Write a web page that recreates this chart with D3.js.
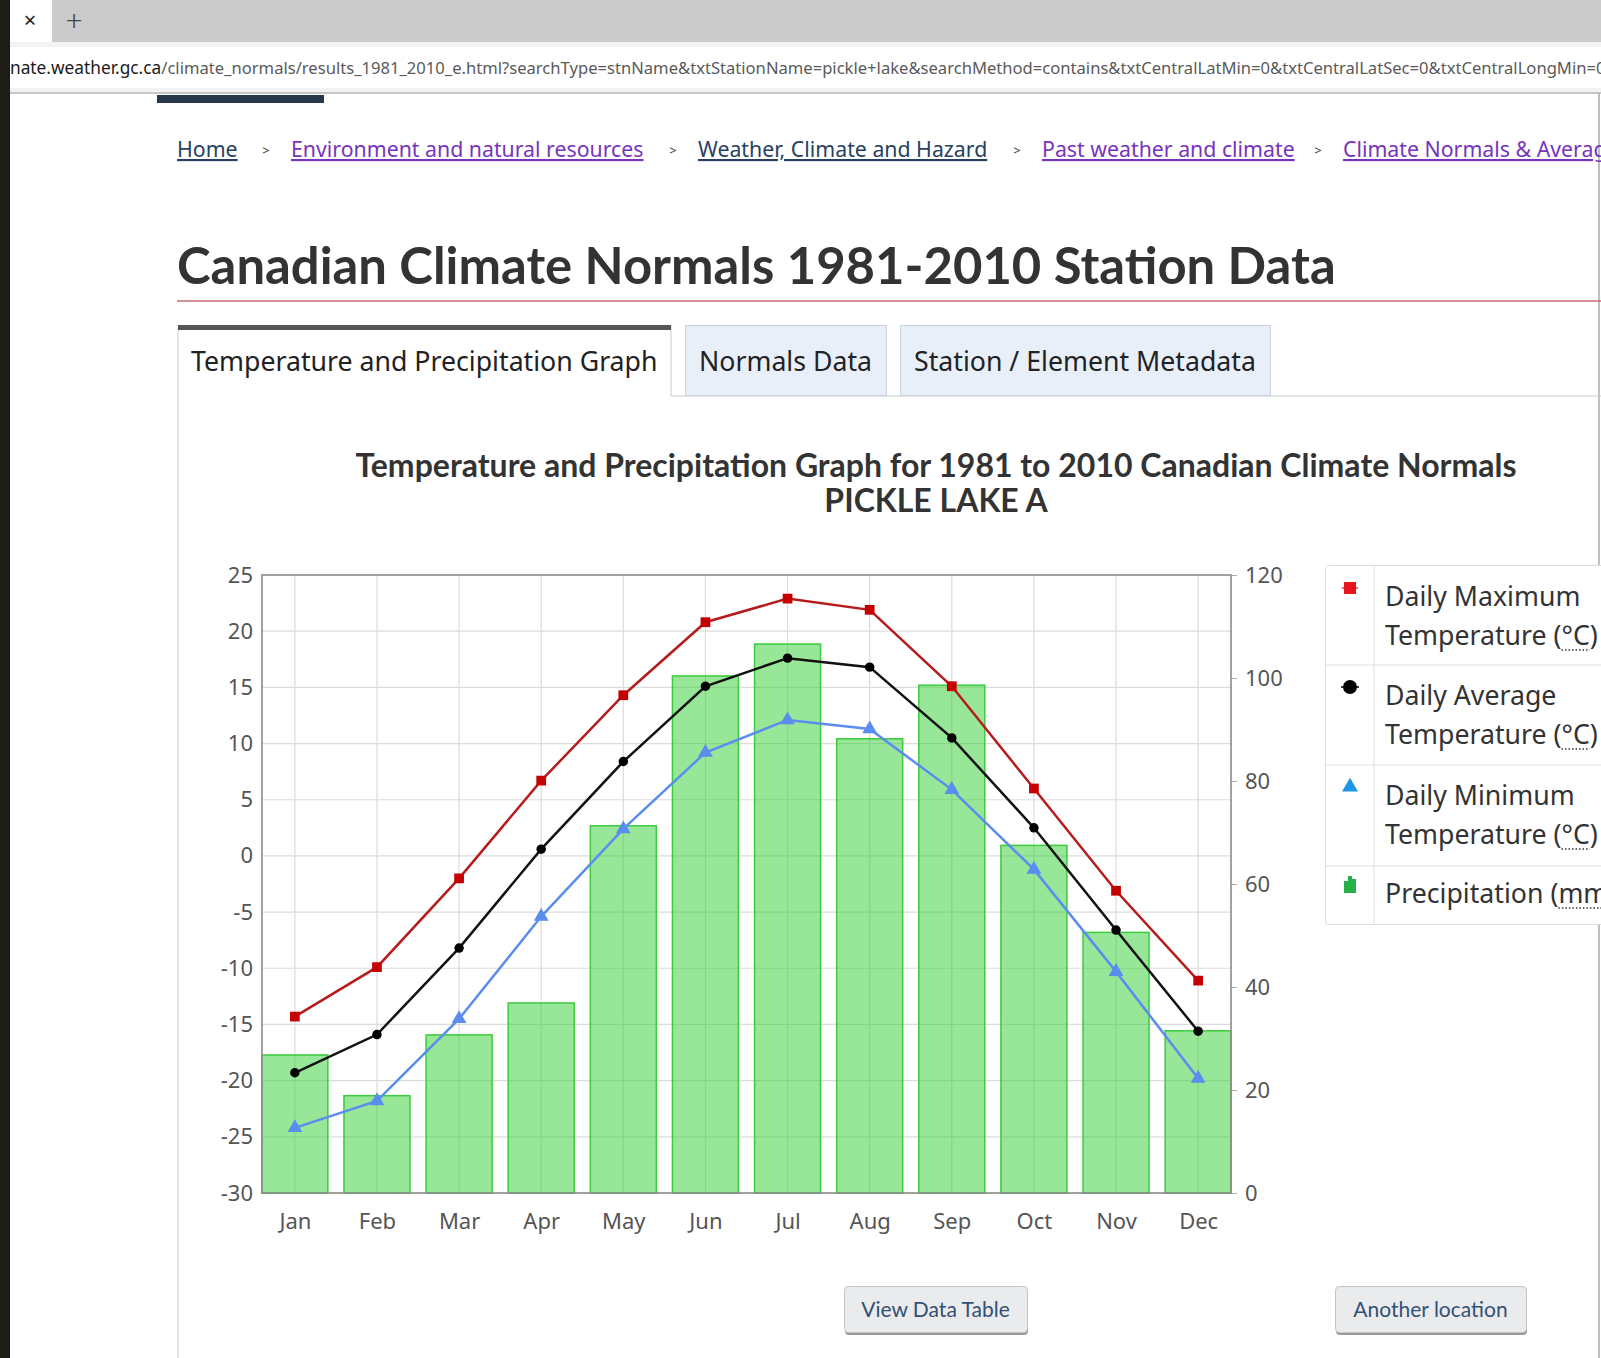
<!DOCTYPE html>
<html>
<head>
<meta charset="utf-8">
<script src="https://cdn.jsdelivr.net/npm/d3@7"></script>
<style>
  body { margin: 0; overflow: hidden; background: #fff; }
  text { font-family: "Noto Sans", sans-serif; }
</style>
</head>
<body>
<div id="page"></div>
<script>
// chart values
var months = ["Jan", "Feb", "Mar", "Apr", "May", "Jun", "Jul", "Aug", "Sep", "Oct", "Nov", "Dec"];
var maxTemp = [-14.3, -9.9, -2.0, 6.7, 14.3, 20.8, 22.9, 21.9, 15.1, 6.0, -3.1, -11.1];
var avgTemp = [-19.3, -15.9, -8.2, 0.6, 8.4, 15.1, 17.6, 16.8, 10.5, 2.5, -6.6, -15.6];
var minTemp = [-24.2, -21.8, -14.5, -5.4, 2.4, 9.2, 12.1, 11.3, 5.9, -1.2, -10.3, -19.8];
var precip = [26.8, 18.9, 30.7, 36.9, 71.3, 100.4, 106.6, 88.2, 98.6, 67.5, 50.6, 31.5];
var tempTicks = [-30, -25, -20, -15, -10, -5, 0, 5, 10, 15, 20, 25];
var precipTicks = [0, 20, 40, 60, 80, 100, 120];

var svgWidth = 1601;
var svgHeight = 1358;

var plot = { left: 262, right: 1231, top: 575, bottom: 1193 };

var svg = d3.select("#page")
  .append("svg")
  .attr("width", svgWidth)
  .attr("height", svgHeight);

// ---- browser chrome ----
svg.append("rect").attr("x", 0).attr("y", 0).attr("width", svgWidth).attr("height", 42).attr("fill", "#cbcbcb");
svg.append("rect").attr("x", 10).attr("y", 0).attr("width", 42).attr("height", 42).attr("fill", "#fff");
svg.append("text").attr("x", 30).attr("y", 28).attr("text-anchor", "middle")
  .style("font-size", "22px").attr("fill", "#222").text("×");
svg.append("text").attr("x", 74).attr("y", 31).attr("text-anchor", "middle")
  .style("font-size", "30px").style("font-weight", 300).attr("fill", "#444").text("+");

svg.append("rect").attr("x", 0).attr("y", 42).attr("width", svgWidth).attr("height", 51).attr("fill", "#f3f3f3");
svg.append("rect").attr("x", 0).attr("y", 47).attr("width", svgWidth).attr("height", 41).attr("fill", "#fff");
svg.append("line").attr("x1", 0).attr("x2", svgWidth).attr("y1", 93).attr("y2", 93)
  .attr("stroke", "#c6c6c6").attr("stroke-width", 2);

var url = svg.append("text").attr("x", 10).attr("y", 74).style("font-size", "16.6px");
url.append("tspan").attr("fill", "#1a1a1a").style("font-size", "17.3px").text("nate.weather.gc.ca");
url.append("tspan").attr("fill", "#5a5a5a")
  .text("/climate_normals/results_1981_2010_e.html?searchType=stnName&txtStationName=pickle+lake&searchMethod=contains&txtCentralLatMin=0&txtCentralLatSec=0&txtCentralLongMin=0&txtCentralLongSec=0");

svg.append("rect").attr("x", 157).attr("y", 95).attr("width", 167).attr("height", 8).attr("fill", "#26374a");
svg.append("line").attr("x1", 1599).attr("x2", 1599).attr("y1", 93).attr("y2", svgHeight)
  .attr("stroke", "#aaa").attr("stroke-width", 1.5);
svg.append("rect").attr("x", 0).attr("y", 0).attr("width", 10).attr("height", svgHeight).attr("fill", "#1d1d15");

// ---- breadcrumb ----
var crumbs = [
  { x: 177, t: "Home", c: "#284162" },
  { x: 291, t: "Environment and natural resources", c: "#7834bc" },
  { x: 698, t: "Weather, Climate and Hazard", c: "#284162" },
  { x: 1042, t: "Past weather and climate", c: "#7834bc" },
  { x: 1343, t: "Climate Normals & Averages", c: "#7834bc" }
];
var crumbSep = [266, 673, 1017, 1318];

svg.selectAll(".crumb").data(crumbs).enter().append("text")
  .attr("x", d => d.x).attr("y", 157)
  .attr("fill", d => d.c)
  .style("font-size", "21.3px")
  .style("text-decoration", "underline")
  .text(d => d.t);
svg.selectAll(".sep").data(crumbSep).enter().append("text")
  .attr("x", d => d).attr("y", 155).attr("text-anchor", "middle")
  .attr("fill", "#333").style("font-size", "13px").text(">");

// ---- page title ----
svg.append("text").attr("x", 177).attr("y", 284)
  .style("font-family", "Lato, sans-serif").style("font-weight", 700).style("font-size", "50.8px")
  .attr("fill", "#333").text("Canadian Climate Normals 1981-2010 Station Data");
svg.append("line").attr("x1", 177).attr("x2", svgWidth).attr("y1", 301).attr("y2", 301)
  .attr("stroke", "#c86a6f").attr("stroke-width", 1.5);

// ---- tabs ----
svg.append("line").attr("x1", 178).attr("x2", 178).attr("y1", 325).attr("y2", svgHeight).attr("stroke", "#ccc");
svg.append("line").attr("x1", 671).attr("x2", 671).attr("y1", 325).attr("y2", 396).attr("stroke", "#ccc");
svg.append("line").attr("x1", 671).attr("x2", svgWidth).attr("y1", 396).attr("y2", 396).attr("stroke", "#ccc");
svg.append("rect").attr("x", 178).attr("y", 325).attr("width", 493).attr("height", 5).attr("fill", "#555");
svg.append("text").attr("x", 191).attr("y", 371).style("font-size", "26.7px").attr("fill", "#222")
  .text("Temperature and Precipitation Graph");

var tabs = [
  { x: 685, w: 201, t: "Normals Data" },
  { x: 900, w: 370, t: "Station / Element Metadata" }
];
svg.selectAll(".tab").data(tabs).enter().append("rect")
  .attr("x", d => d.x + 0.5).attr("y", 325.5).attr("width", d => d.w).attr("height", 70)
  .attr("fill", "#e8eff9").attr("stroke", "#cdd3dc");
svg.selectAll(".tabtxt").data(tabs).enter().append("text")
  .attr("x", d => d.x + 14).attr("y", 371).style("font-size", "26.7px").attr("fill", "#222")
  .text(d => d.t);

// ---- chart title ----
var chartTitle = svg.append("text").attr("text-anchor", "middle")
  .style("font-family", "Lato, sans-serif").style("font-weight", 700).style("font-size", "32px")
  .attr("fill", "#333");
chartTitle.append("tspan").attr("x", 936).attr("y", 477)
  .text("Temperature and Precipitation Graph for 1981 to 2010 Canadian Climate Normals");
chartTitle.append("tspan").attr("x", 936).attr("y", 512).text("PICKLE LAKE A");

// ---- chart ----
var x = d3.scalePoint().domain(months).range([plot.left, plot.right]).padding(0.4);
var yTemp = d3.scaleLinear().domain([-30, 25]).range([plot.bottom, plot.top]);
var yPrecip = d3.scaleLinear().domain([0, 120]).range([plot.bottom, plot.top]);

var chartGroup = svg.append("g");

// grid
chartGroup.append("g").selectAll("line").data(tempTicks.slice(1, -1)).enter().append("line")
  .attr("x1", plot.left).attr("x2", plot.right)
  .attr("y1", d => yTemp(d)).attr("y2", d => yTemp(d))
  .attr("stroke", "#dcdcdc").attr("stroke-width", 1.2);
chartGroup.append("g").selectAll("line").data(months).enter().append("line")
  .attr("x1", d => x(d)).attr("x2", d => x(d))
  .attr("y1", plot.top).attr("y2", plot.bottom)
  .attr("stroke", "#dcdcdc").attr("stroke-width", 1.2);

// precipitation bars
var barWidth = 66;
chartGroup.append("g").selectAll("rect").data(precip).enter().append("rect")
  .attr("x", (d, i) => x(months[i]) - barWidth / 2)
  .attr("y", d => yPrecip(d))
  .attr("width", barWidth)
  .attr("height", d => yPrecip(0) - yPrecip(d))
  .attr("fill", "rgba(50,205,50,0.5)")
  .attr("stroke", "#3ccb3c")
  .attr("stroke-width", 1.5);

// frame
chartGroup.append("rect")
  .attr("x", plot.left).attr("y", plot.top)
  .attr("width", plot.right - plot.left).attr("height", plot.bottom - plot.top)
  .attr("fill", "none").attr("stroke", "#8a8a8a").attr("stroke-width", 1.6);

// axes
var leftAxis = chartGroup.append("g").attr("transform", `translate(${plot.left}, 0)`)
  .call(d3.axisLeft(yTemp).tickValues(tempTicks).tickFormat(d => String(d)).tickSize(0).tickPadding(9));
var rightAxis = chartGroup.append("g").attr("transform", `translate(${plot.right}, 0)`)
  .call(d3.axisRight(yPrecip).tickValues(precipTicks).tickFormat(d => String(d)).tickSize(6).tickPadding(8));
var bottomAxis = chartGroup.append("g").attr("transform", `translate(0, ${plot.bottom})`)
  .call(d3.axisBottom(x).tickSize(0).tickPadding(20));

[leftAxis, rightAxis, bottomAxis].forEach(function(ax) {
  ax.select(".domain").remove();
  ax.selectAll("text")
    .style("font-family", "Noto Sans, sans-serif")
    .style("font-size", "22px")
    .attr("fill", "#555");
  ax.selectAll("line").attr("stroke", "#aaa");
});

// temperature series
var series = [
  { values: maxTemp, color: "#b71c1c", marker: "#c40000", symbol: d3.symbolSquare, size: 95 },
  { values: avgTemp, color: "#111", marker: "#000", symbol: d3.symbolCircle, size: 70 },
  { values: minTemp, color: "#5b8def", marker: "#5b8def", symbol: d3.symbolTriangle, size: 95 }
];

var line = d3.line()
  .x((d, i) => x(months[i]))
  .y(d => yTemp(d));

series.forEach(function(s) {
  chartGroup.append("path")
    .datum(s.values)
    .attr("d", line)
    .attr("fill", "none")
    .attr("stroke", s.color)
    .attr("stroke-width", 2.5);

  chartGroup.append("g").selectAll("path").data(s.values).enter().append("path")
    .attr("transform", (d, i) => `translate(${x(months[i])}, ${yTemp(d)})`)
    .attr("d", d3.symbol().type(s.symbol).size(s.size))
    .attr("fill", s.marker);
});

// ---- legend ----
var legend = svg.append("g");
legend.append("rect").attr("x", 1325.5).attr("y", 565.5).attr("width", 400).attr("height", 359)
  .attr("rx", 3).attr("fill", "#fff").attr("stroke", "#dedede");
legend.append("line").attr("x1", 1374).attr("x2", 1374).attr("y1", 566).attr("y2", 924).attr("stroke", "#dedede");
[665, 765, 866].forEach(function(yy) {
  legend.append("line").attr("x1", 1326).attr("x2", svgWidth).attr("y1", yy).attr("y2", yy).attr("stroke", "#dedede");
});

var legendRows = [
  { lines: [["Daily Maximum", "", ""], ["Temperature (", "°C", ")"]], y: [606, 645] },
  { lines: [["Daily Average", "", ""], ["Temperature (", "°C", ")"]], y: [705, 744] },
  { lines: [["Daily Minimum", "", ""], ["Temperature (", "°C", ")"]], y: [805, 844] },
  { lines: [["Precipitation (", "mm", ")"]], y: [903] }
];

legendRows.forEach(function(row) {
  row.lines.forEach(function(parts, k) {
    var t = legend.append("text").attr("x", 1385).attr("y", row.y[k])
      .style("font-size", "26.7px").attr("fill", "#333");
    t.append("tspan").text(parts[0]);
    if (parts[1]) {
      t.append("tspan").text(parts[1]);
      t.append("tspan").text(parts[2]);
      var node = t.node();
      var x0 = node.getStartPositionOfChar(parts[0].length).x;
      var x1 = node.getEndPositionOfChar(parts[0].length + parts[1].length - 1).x;
      legend.append("line").attr("x1", x0).attr("x2", x1)
        .attr("y1", row.y[k] + 5).attr("y2", row.y[k] + 5)
        .attr("stroke", "#333").attr("stroke-width", 1.5).attr("stroke-dasharray", "1.5,2");
    }
  });
});

// legend icons
var ix = 1350;
legend.append("line").attr("x1", ix - 8).attr("x2", ix + 8).attr("y1", 588).attr("y2", 588).attr("stroke", "#e33").attr("stroke-width", 1.5);
legend.append("rect").attr("x", ix - 6).attr("y", 582).attr("width", 12).attr("height", 12).attr("fill", "#e8141c");
legend.append("line").attr("x1", ix - 9).attr("x2", ix + 9).attr("y1", 687).attr("y2", 687).attr("stroke", "#000").attr("stroke-width", 1.5);
legend.append("circle").attr("cx", ix).attr("cy", 687).attr("r", 7).attr("fill", "#000");
legend.append("path").attr("transform", `translate(${ix}, 787)`)
  .attr("d", d3.symbol().type(d3.symbolTriangle).size(110)).attr("fill", "#1e96e6");
legend.append("path")
  .attr("d", `M${ix - 6},893 V881 H${ix - 2} V876 H${ix + 2} V879 H${ix + 6} V893 Z`)
  .attr("fill", "#25b04a");

// ---- buttons ----
var buttons = [
  { x: 844, w: 183, t: "View Data Table" },
  { x: 1335, w: 191, t: "Another location" }
];
svg.selectAll(".btnshadow").data(buttons).enter().append("rect")
  .attr("x", d => d.x + 1).attr("y", 1288).attr("width", d => d.w).attr("height", 47)
  .attr("rx", 4).attr("fill", "#9a9a9a");
svg.selectAll(".btn").data(buttons).enter().append("rect")
  .attr("x", d => d.x + 0.5).attr("y", 1286.5).attr("width", d => d.w).attr("height", 46)
  .attr("rx", 4).attr("fill", "#eaebed").attr("stroke", "#c4c4c4");
svg.selectAll(".btntxt").data(buttons).enter().append("text")
  .attr("x", d => d.x + d.w / 2).attr("y", 1317).attr("text-anchor", "middle")
  .style("font-family", "Lato, sans-serif").style("font-size", "21px").attr("fill", "#335075")
  .text(d => d.t);
</script>
</body>
</html>
